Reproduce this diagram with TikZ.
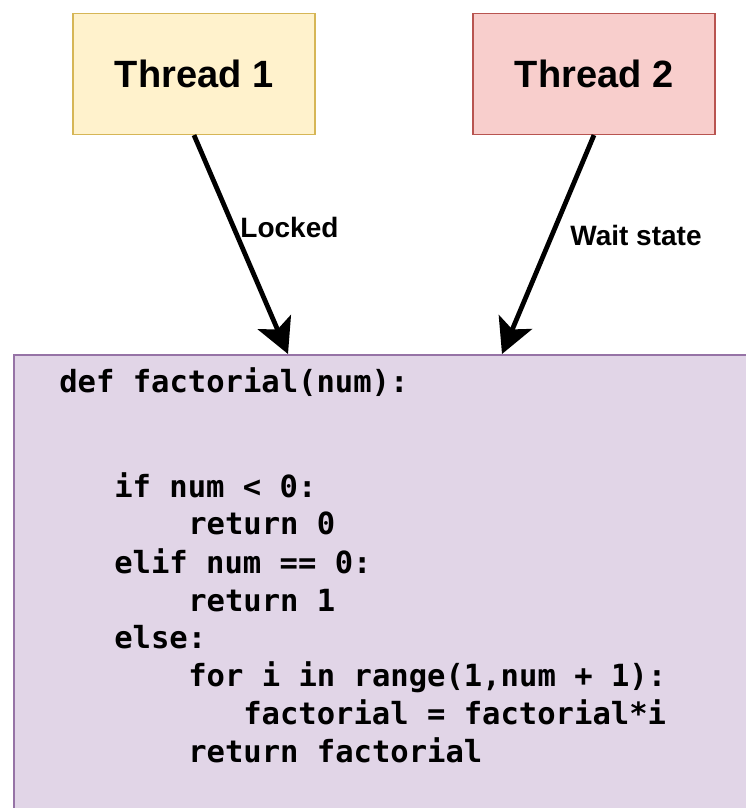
\documentclass[tikz,border=0pt]{standalone}
\usepackage{fontspec}
\setmainfont{Liberation Sans}
\newfontfamily\codefont{DejaVu Sans Mono}
\usetikzlibrary{arrows.meta}
\definecolor{tonefill}{HTML}{FFF2CC}
\definecolor{toneline}{HTML}{D6B656}
\definecolor{ttwofill}{HTML}{F8CECC}
\definecolor{ttwoline}{HTML}{B85450}
\definecolor{codefill}{HTML}{E1D5E7}
\definecolor{codeline}{HTML}{9673A6}
\tikzset{
  threadbox/.style={draw, line width=0.9pt, rectangle, minimum width=181.5pt, minimum height=90.75pt,
    inner sep=0pt, font=\fontsize{28.5}{34}\selectfont\bfseries},
  codebox/.style={draw=codeline, fill=codefill, line width=1.2pt, rectangle, anchor=north west,
    minimum width=560pt, minimum height=360pt, inner sep=0pt},
  codeln/.style={anchor=base west, inner sep=0pt, font=\codefont\bfseries\fontsize{22.9}{28.5}\selectfont},
  flow/.style={line width=3.6pt, -{Stealth[length=26pt, width=27pt, inset=6pt]}},
  elabel/.style={inner sep=0pt, anchor=base west, font=\fontsize{21}{25}\selectfont\bfseries}
}
\begin{document}
\begin{tikzpicture}[x=0.75pt, y=-0.75pt]
\useasboundingbox (0,0) rectangle (746,808);
\begin{scope}
\clip (0,0) rectangle (746,808);
\node[codebox] (code) at (13,354) {};
\end{scope}
\node[threadbox, draw=toneline, fill=tonefill] (t1) at (194,74) {Thread 1};
\node[threadbox, draw=ttwoline, fill=ttwofill] (t2) at (594,74) {Thread 2};
\coordinate (e1) at ([xshift=206.25pt]code.north west);
\coordinate (e2) at ([xshift=366.75pt]code.north west);
\draw[flow] (t1.south) -- node[elabel, pos=0.5, shift={(-3,-7)}] {Locked} (e1);
\draw[flow] (t2.south) -- node[elabel, pos=0.5, shift={(20,1)}] {Wait state} (e2);
\node[codeln] (l1) at (59,392) {def factorial(num):};
\node[codeln] (l2) at (114,497) {if num < 0:};
\node[codeln] (l3) at (188,534) {return 0};
\node[codeln] (l4) at (114,573) {elif num == 0:};
\node[codeln] (l5) at (188,611) {return 1};
\node[codeln] (l6) at (114,648) {else:};
\node[codeln] (l7) at (188,686) {for i in range(1,num + 1):};
\node[codeln] (l8) at (243,724) {factorial = factorial*i};
\node[codeln] (l9) at (188,762) {return factorial};
\end{tikzpicture}
\end{document}
